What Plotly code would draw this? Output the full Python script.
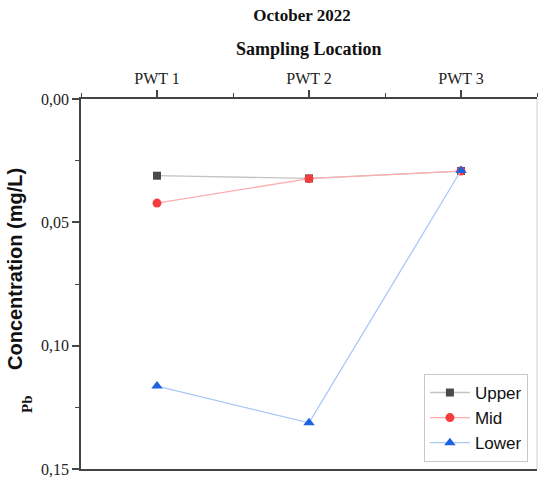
import plotly.graph_objects as go

locations = ["PWT 1", "PWT 2", "PWT 3"]
upper = [0.0311, 0.0322, 0.0292]
mid = [0.0422, 0.0323, 0.0292]
lower = [0.1164, 0.1313, 0.0290]
y_ticks = [0.0, 0.05, 0.10, 0.15]

xpos = list(range(len(locations)))

AX = "#444444"
SERIF = "Liberation Serif"
SANS = "Liberation Sans"

fig = go.Figure()
fig.add_trace(go.Scatter(x=xpos, y=upper, name="Upper", mode="lines+markers",
                         line=dict(color="#c4c4c4", width=1.3),
                         marker=dict(symbol="square", size=8, color="#4a4a4a")))
fig.add_trace(go.Scatter(x=xpos, y=mid, name="Mid", mode="lines+markers",
                         line=dict(color="#ffadad", width=1.3),
                         marker=dict(symbol="circle", size=9, color="#f53d3d")))
fig.add_trace(go.Scatter(x=xpos, y=lower, name="Lower", mode="lines+markers",
                         line=dict(color="#a9c8f5", width=1.3),
                         marker=dict(symbol="triangle-up", size=10, color="#1f62e0")))

fig.update_layout(
    width=538, height=481,
    margin=dict(l=81, r=1, t=99, b=12, autoexpand=False),
    paper_bgcolor="white", plot_bgcolor="white",
    separators=",.",
    showlegend=True,
    title=dict(text="<b>October 2022</b>", x=302 / 538, y=1 - 15 / 481,
               xref="container", yref="container", xanchor="center", yanchor="middle",
               font=dict(family=SERIF, size=17, color="#111111")),
    legend=dict(x=0.752, y=0.019, xanchor="left", yanchor="bottom",
                bgcolor="white", bordercolor="#c8c8c8", borderwidth=1,
                font=dict(family=SANS, size=17, color="#111111"),
                itemwidth=40, tracegroupgap=0),
    xaxis=dict(range=[-0.5, 2.5], tickvals=xpos, ticktext=locations, side="top",
               showline=True, linecolor=AX, linewidth=1.5, mirror=True,
               ticks="outside", ticklen=7, tickwidth=1.5, tickcolor=AX,
               minor=dict(tick0=0, dtick=0.5, ticks="outside", ticklen=4, tickwidth=1.2, tickcolor=AX),
               showgrid=False, zeroline=False,
               tickfont=dict(family=SERIF, size=16, color="#222222")),
    yaxis=dict(range=[0.15, 0], tickvals=y_ticks, tickformat=".2f",
               showline=True, linecolor=AX, linewidth=1.5,
               ticks="outside", ticklen=7, tickwidth=1.5, tickcolor=AX,
               minor=dict(tick0=0, dtick=0.025, ticks="outside", ticklen=4, tickwidth=1.2, tickcolor=AX),
               showgrid=False, zeroline=False,
               tickfont=dict(family=SERIF, size=16, color="#222222")),
    annotations=[
        dict(text="<b>Sampling Location</b>", xref="paper", yref="paper",
             x=0.5, y=(469 - 49) / 370, xanchor="center", yanchor="middle", showarrow=False,
             font=dict(family=SERIF, size=18, color="#111111")),
        dict(text="<b>Concentration (mg/L)</b>", xref="paper", yref="paper",
             x=(15 - 81) / 456, y=(469 - 269) / 370, xanchor="center", yanchor="middle",
             textangle=-90, showarrow=False,
             font=dict(family=SANS, size=20, color="#111111")),
        dict(text="<b>Pb</b>", xref="paper", yref="paper",
             x=(27 - 81) / 456, y=(469 - 404) / 370, xanchor="center", yanchor="middle",
             textangle=-90, showarrow=False,
             font=dict(family=SERIF, size=15, color="#111111")),
    ],
    shapes=[dict(type="line", xref="paper", yref="paper", x0=1, x1=1, y0=0, y1=1,
                 line=dict(color="#d0d0d0", width=1))],
)

fig.write_html(
    "out.html",
    config={"displayModeBar": False},
    post_script="document.body.style.margin='0';document.body.style.overflow='hidden';",
)
